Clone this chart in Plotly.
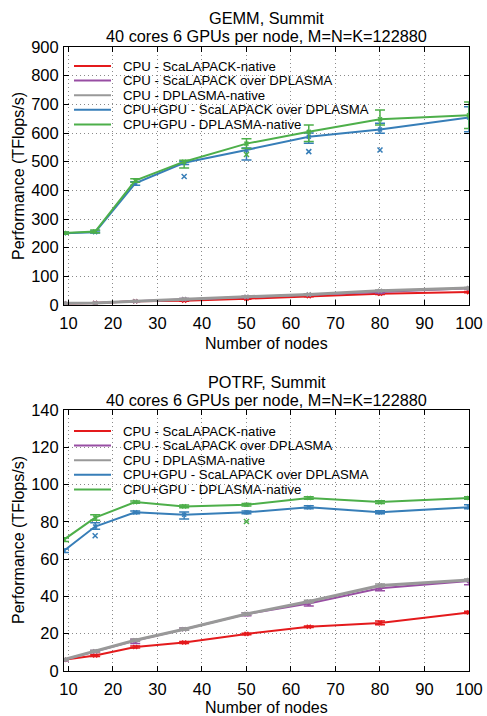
import plotly.graph_objects as go

# ---------------- data ----------------
nodes = [9, 16, 25, 36, 50, 64, 80, 100]
series_names = [
    "CPU - ScaLAPACK-native",
    "CPU - ScaLAPACK over DPLASMA",
    "CPU - DPLASMA-native",
    "CPU+GPU - ScaLAPACK over DPLASMA",
    "CPU+GPU - DPLASMA-native",
]
colors = ["#e41a1c", "#984ea3", "#999999", "#377eb8", "#4daf4a"]

# GEMM (TFlop/s): mean, max, min
gemm_cpu_scalapack = [5, 7, 13, 15, 22, 31, 39, 45]
gemm_cpu_scalapack_hi = [6, 8, 14, 17, 24, 33, 41, 47]
gemm_cpu_scalapack_lo = [4, 6, 12, 13, 20, 29, 37, 43]
gemm_cpu_scal_over = [6, 7, 13, 20, 28, 36, 45, 58]
gemm_cpu_scal_over_hi = [7, 8, 15, 23, 30, 38, 49, 60]
gemm_cpu_scal_over_lo = [5, 6, 12, 18, 26, 34, 42, 56]
gemm_cpu_dplasma = [6, 7, 13, 21, 29, 37, 50, 59]
gemm_cpu_dplasma_hi = [7, 8, 14, 23, 31, 39, 52, 61]
gemm_cpu_dplasma_lo = [5, 6, 12, 19, 27, 35, 48, 57]
gemm_gpu_scal_over = [250, 254, 424, 496, 541, 587, 612, 654]
gemm_gpu_scal_over_hi = [254, 258, 430, 500, 548, 600, 634, 692]
gemm_gpu_scal_over_lo = [247, 251, 418, 490, 506, 564, 599, 604]
gemm_gpu_dplasma = [251, 256, 434, 500, 563, 604, 648, 662]
gemm_gpu_dplasma_hi = [255, 262, 440, 505, 580, 628, 680, 708]
gemm_gpu_dplasma_lo = [247, 252, 428, 478, 546, 570, 628, 616]
gemm_outlier_gpu_scal_x = [36, 64, 80]
gemm_outlier_gpu_scal_y = [448, 535, 541]
gemm_outlier_gpu_dpl_x = [50]
gemm_outlier_gpu_dpl_y = [525]

# POTRF (TFlop/s): mean, max, min
potrf_cpu_scalapack = [6.0, 8.3, 12.9, 15.3, 19.9, 23.7, 25.8, 31.4]
potrf_cpu_scalapack_hi = [6.4, 8.8, 13.4, 15.8, 20.3, 24.1, 26.8, 32.0]
potrf_cpu_scalapack_lo = [5.6, 7.8, 12.4, 14.8, 19.5, 23.3, 24.8, 30.8]
potrf_cpu_scal_over = [6.0, 10.5, 16.3, 22.4, 30.5, 36.2, 44.4, 48.3]
potrf_cpu_scal_over_hi = [6.5, 11.0, 17.0, 23.0, 31.2, 37.2, 45.4, 49.0]
potrf_cpu_scal_over_lo = [5.5, 10.0, 14.8, 21.8, 29.6, 34.8, 43.0, 46.3]
potrf_cpu_dplasma = [6.1, 10.6, 16.5, 22.4, 30.6, 37.3, 45.9, 48.8]
potrf_cpu_dplasma_hi = [6.6, 11.1, 17.1, 23.0, 31.2, 38.0, 46.6, 49.4]
potrf_cpu_dplasma_lo = [5.6, 10.1, 15.9, 21.8, 30.0, 36.6, 45.2, 48.2]
potrf_gpu_scal_over = [64.5, 77.5, 85.1, 83.8, 85.1, 87.8, 85.2, 87.9]
potrf_gpu_scal_over_hi = [65.5, 79.5, 85.8, 85.3, 85.8, 88.6, 86.0, 89.2]
potrf_gpu_scal_over_lo = [63.5, 76.0, 84.4, 81.5, 84.4, 87.0, 84.4, 87.0]
potrf_gpu_dplasma = [70.5, 82.3, 90.6, 88.3, 89.2, 92.8, 90.6, 92.8]
potrf_gpu_dplasma_hi = [71.5, 83.8, 91.2, 89.0, 89.9, 93.5, 91.3, 93.5]
potrf_gpu_dplasma_lo = [69.5, 80.8, 90.0, 87.6, 88.5, 92.1, 89.8, 92.1]
potrf_outlier_gpu_scal_x = [16]
potrf_outlier_gpu_scal_y = [72.5]
potrf_outlier_gpu_dpl_x = [50]
potrf_outlier_gpu_dpl_y = [80.2]

x_ticks = [10, 20, 30, 40, 50, 60, 70, 80, 90, 100]
gemm_title = ["GEMM, Summit", "40 cores 6 GPUs per node, M=N=K=122880"]
potrf_title = ["POTRF, Summit", "40 cores 6 GPUs per node, M=N=K=122880"]
x_title = "Number of nodes"
y_title = "Performance (TFlops/s)"

gemm = [
    (gemm_cpu_scalapack, gemm_cpu_scalapack_hi, gemm_cpu_scalapack_lo),
    (gemm_cpu_scal_over, gemm_cpu_scal_over_hi, gemm_cpu_scal_over_lo),
    (gemm_cpu_dplasma, gemm_cpu_dplasma_hi, gemm_cpu_dplasma_lo),
    (gemm_gpu_scal_over, gemm_gpu_scal_over_hi, gemm_gpu_scal_over_lo),
    (gemm_gpu_dplasma, gemm_gpu_dplasma_hi, gemm_gpu_dplasma_lo),
]
potrf = [
    (potrf_cpu_scalapack, potrf_cpu_scalapack_hi, potrf_cpu_scalapack_lo),
    (potrf_cpu_scal_over, potrf_cpu_scal_over_hi, potrf_cpu_scal_over_lo),
    (potrf_cpu_dplasma, potrf_cpu_dplasma_hi, potrf_cpu_dplasma_lo),
    (potrf_gpu_scal_over, potrf_gpu_scal_over_hi, potrf_gpu_scal_over_lo),
    (potrf_gpu_dplasma, potrf_gpu_dplasma_hi, potrf_gpu_dplasma_lo),
]

# ---------------- layout geometry (pixels) ----------------
W, H = 487, 716
ML, MR, MT, MB = 64, 18, 47, 45
PH = H - MT - MB


def py(pix):
    return (H - MB - pix) / PH


def px(pix):
    return (pix - ML) / (W - ML - MR)


FONT = "Liberation Sans, Arial, sans-serif"
fig = go.Figure()

line_w = [2, 2, 3, 2, 2]
for panel, (data, xa, ya) in enumerate([(gemm, "x", "y"), (potrf, "x2", "y2")]):
    for i, (mean, hi, lo) in enumerate(data):
        fig.add_trace(go.Scatter(
            x=nodes, y=mean, xaxis=xa, yaxis=ya, mode="lines+markers",
            line=dict(color=colors[i], width=line_w[i]),
            marker=dict(color=colors[i], size=4, symbol="x-thin",
                        line=dict(color=colors[i], width=1.5)),
            error_y=dict(type="data", symmetric=False,
                         array=[h - m for h, m in zip(hi, mean)],
                         arrayminus=[m - l for m, l in zip(mean, lo)],
                         color=colors[i], thickness=1.5, width=5),
            name=series_names[i], showlegend=False,
        ))

outliers = [
    (gemm_outlier_gpu_scal_x, gemm_outlier_gpu_scal_y, 3, "x", "y"),
    (gemm_outlier_gpu_dpl_x, gemm_outlier_gpu_dpl_y, 4, "x", "y"),
    (potrf_outlier_gpu_scal_x, potrf_outlier_gpu_scal_y, 3, "x2", "y2"),
    (potrf_outlier_gpu_dpl_x, potrf_outlier_gpu_dpl_y, 4, "x2", "y2"),
]
for ox, oy, ci, xa, ya in outliers:
    fig.add_trace(go.Scatter(
        x=ox, y=oy, xaxis=xa, yaxis=ya, mode="markers",
        marker=dict(color=colors[ci], size=5, symbol="x-thin",
                    line=dict(color=colors[ci], width=1.5)),
        showlegend=False, hoverinfo="skip"))

top_dom = [py(305), py(47)]
bot_dom = [py(671), py(410)]

axis_common = dict(
    showline=True, linecolor="black", linewidth=1, mirror="ticks",
    ticks="inside", ticklen=5, tickcolor="black", automargin=False,
    showgrid=True, gridcolor="#8a8a8a", griddash="1px,3px", gridwidth=1,
    zeroline=False, tickfont=dict(family=FONT, size=16.5, color="black"),
)
title_font = dict(family=FONT, size=16, color="black")

fig.update_layout(
    width=W, height=H, margin=dict(l=ML, r=MR, t=MT, b=MB, autoexpand=False),
    paper_bgcolor="white", plot_bgcolor="white",
    font=dict(family=FONT, size=16, color="black"),
    showlegend=False,
    xaxis=dict(domain=[0, 1], range=[9, 100], tickvals=x_ticks, anchor="y",
               ticklabelstandoff=3, **axis_common),
    yaxis=dict(domain=top_dom, range=[0, 900], dtick=100, anchor="x",
               ticklabelstandoff=1, **axis_common),
    xaxis2=dict(domain=[0, 1], range=[9, 100], tickvals=x_ticks, anchor="y2",
                ticklabelstandoff=3, **axis_common),
    yaxis2=dict(domain=bot_dom, range=[0, 140], dtick=20, anchor="x2",
                ticklabelstandoff=1, **axis_common),
)

annotations = []
shapes = []
# panel titles
for title, (y1, y2) in [(gemm_title, (18, 36)), (potrf_title, (381.5, 400))]:
    for t, yy in zip(title, (y1, y2)):
        annotations.append(dict(text=t, x=0.5, y=py(yy), xref="paper", yref="paper",
                                xanchor="center", yanchor="middle", showarrow=False,
                                borderpad=0,
                                font=dict(family=FONT, size=16.3, color="black")))
# axis titles
for xy, yy in [(343, 176), (707, 540)]:
    annotations.append(dict(text=x_title, x=0.5, y=py(xy), xref="paper", yref="paper",
                            xanchor="center", yanchor="middle", showarrow=False,
                            borderpad=0, font=title_font))
    annotations.append(dict(text=y_title, x=px(18), y=py(yy), xref="paper", yref="paper",
                            xanchor="center", yanchor="middle", showarrow=False,
                            textangle=-90, borderpad=0, font=title_font))

# legends (inside each panel, opaque white box)
LEG_STEP = 14.6
for top_pix in (47, 410):
    first = top_pix + (19 if top_pix == 47 else 21)
    shapes.append(dict(type="rect", xref="paper", yref="paper",
                       x0=px(66), x1=px(410), y0=py(first + 4 * LEG_STEP + 8),
                       y1=py(first - 8),
                       fillcolor="white", line=dict(width=0), layer="between"))
    for i, name in enumerate(series_names):
        yy = first + i * LEG_STEP
        shapes.append(dict(type="line", xref="paper", yref="paper",
                           x0=px(74), x1=px(111), y0=py(yy), y1=py(yy),
                           line=dict(color=colors[i], width=2), layer="above"))
        annotations.append(dict(text=name, x=px(122), y=py(yy), xref="paper", yref="paper",
                                xanchor="left", yanchor="middle", showarrow=False,
                                borderpad=0,
                                font=dict(family=FONT, size=13.2, color="black")))

fig.update_layout(annotations=annotations, shapes=shapes)
fig.write_html("out.html")
